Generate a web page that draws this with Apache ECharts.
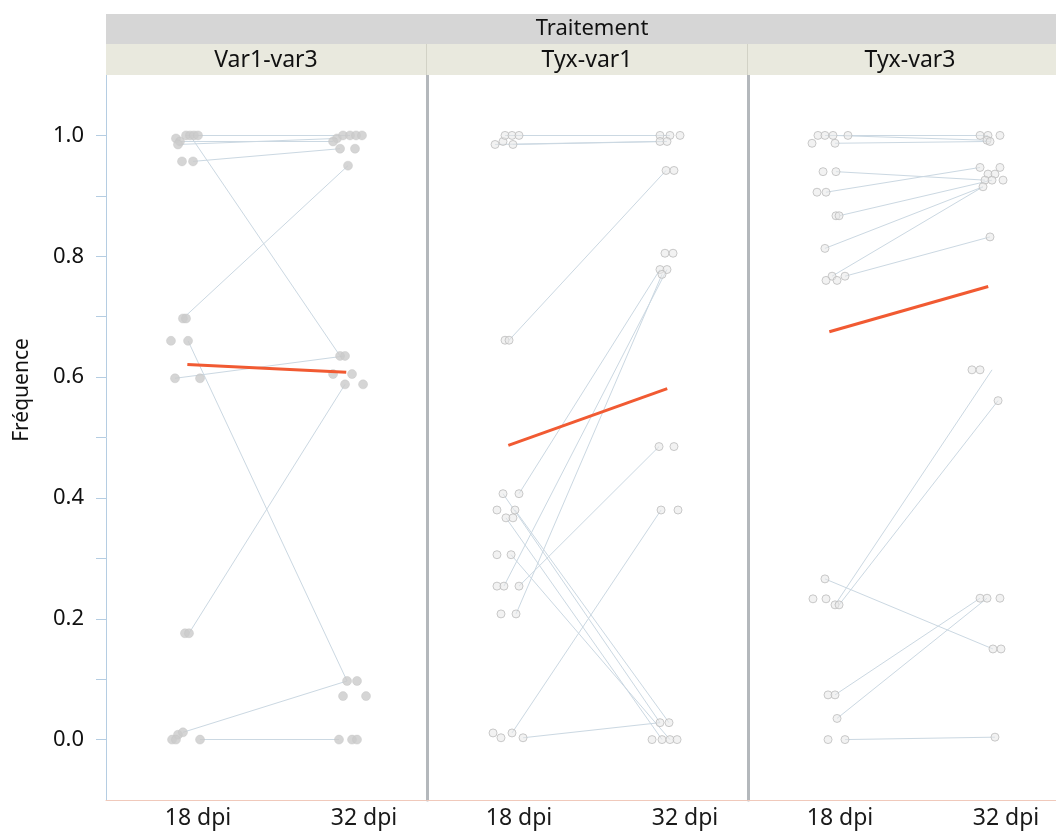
<!DOCTYPE html>
<html>
<head>
<meta charset="utf-8">
<script src="https://cdn.jsdelivr.net/npm/echarts@6/dist/echarts.min.js"></script>
<style>
html,body{margin:0;padding:0;background:#fff;}
#chart{width:1056px;height:834px;}
</style>
</head>
<body>
<div id="chart"></div>
<script>
// ---------- DATA ----------
const headerTitle = 'Traitement';
const yAxisTitle = 'Fréquence';
const panelNames = ['Var1-var3', 'Tyx-var1', 'Tyx-var3'];
const dpiValues = [18, 32];
const dpiLabels = ['18 dpi', '32 dpi'];
const yLabelValues = [0, 0.2, 0.4, 0.6, 0.8, 1.0];
const yTickValues = [0, 0.1, 0.2, 0.3, 0.4, 0.5, 0.6, 0.7, 0.8, 0.9, 1.0];
const meanX = [17.1, 30.5];

// Var1-var3: jittered points [dpi, frequency]
const var13_pts18 = [[16.14,0.995],[16.48,0.99],[16.99,1.0],[17.33,1.0],[17.66,1.0],[18.0,1.0],[16.31,0.985],
  [16.65,0.957],[17.58,0.957],[16.73,0.697],[16.99,0.697],[15.72,0.66],[17.16,0.66],[16.06,0.598],[18.17,0.598],
  [16.9,0.176],[17.24,0.176],[16.31,0.008],[16.73,0.012],[15.81,0.0],[16.14,0.0],[18.17,0.0]];
const var13_pts32 = [[29.72,0.995],[30.23,1.0],[30.82,1.0],[31.33,1.0],[31.83,1.0],[29.39,0.99],[29.98,0.978],
  [31.24,0.978],[30.65,0.95],[29.98,0.635],[30.4,0.635],[29.39,0.605],[30.99,0.605],[30.4,0.588],[31.92,0.588],
  [30.57,0.097],[31.41,0.097],[30.23,0.072],[32.17,0.072],[29.89,0.0],[30.99,0.0],[31.41,0.0]];
// pairs: [dpi18, freq18, dpi32, freq32]
const var13_pairs = [[16.99,1.0,30.23,1.0],[16.31,0.985,29.72,0.995],[17.66,1.0,30.82,1.0],[16.48,0.99,29.39,0.99],
  [17.58,0.957,29.98,0.978],[17.33,1.0,29.98,0.635],[17.16,0.66,30.57,0.097],[16.73,0.697,30.65,0.95],
  [16.06,0.598,30.4,0.635],[17.24,0.176,30.4,0.588],[16.73,0.012,30.57,0.097],[18.17,0.0,29.89,0.0]];
const var13_mean = [0.621, 0.608];

// Tyx-var1
const tyx1_pts18 = [[15.98,0.985],[16.65,0.99],[16.82,1.0],[17.41,1.0],[18.0,1.0],[17.49,0.985],[16.82,0.661],
  [17.16,0.661],[16.65,0.407],[18.0,0.407],[16.14,0.38],[17.66,0.38],[16.9,0.367],[17.49,0.367],[16.14,0.306],
  [17.33,0.306],[16.14,0.254],[16.73,0.254],[18.0,0.254],[16.48,0.208],[17.75,0.208],[15.81,0.011],[17.41,0.011],
  [16.48,0.003],[18.34,0.003]];
const tyx1_pts32 = [[29.89,1.0],[30.73,1.0],[31.58,1.0],[29.89,0.99],[30.48,0.99],[30.4,0.942],[31.07,0.942],
  [30.31,0.805],[30.99,0.805],[29.89,0.778],[30.48,0.778],[30.06,0.77],[29.81,0.485],[31.07,0.485],[29.98,0.38],
  [31.41,0.38],[29.89,0.028],[30.65,0.028],[29.22,0.0],[30.06,0.0],[30.73,0.0],[31.33,0.0]];
const tyx1_pairs = [[16.82,1.0,30.73,1.0],[15.98,0.985,29.89,0.99],[17.49,0.985,30.48,0.99],[17.16,0.661,30.4,0.942],
  [18.0,0.407,29.89,0.778],[16.73,0.254,30.48,0.778],[17.75,0.208,30.06,0.77],[18.0,0.254,29.81,0.485],
  [16.65,0.407,29.89,0.028],[17.66,0.38,30.65,0.028],[16.9,0.367,30.06,0.0],[17.33,0.306,30.73,0.0],
  [17.41,0.011,29.98,0.38],[18.34,0.003,29.89,0.028]];
const tyx1_mean = [0.487, 0.581];

// Tyx-var3
const tyx3_pts18 = [[15.64,0.987],[16.14,1.0],[16.73,1.0],[17.41,1.0],[18.67,1.0],[17.58,0.987],[16.57,0.94],
  [17.66,0.94],[16.06,0.906],[16.82,0.906],[17.66,0.867],[17.92,0.867],[16.73,0.813],[17.33,0.767],[18.42,0.767],
  [16.82,0.76],[17.75,0.76],[16.73,0.266],[15.72,0.233],[16.82,0.233],[17.58,0.223],[17.92,0.223],[16.99,0.074],
  [17.58,0.074],[17.75,0.035],[16.99,0.0],[18.42,0.0]];
const tyx3_pts32 = [[29.81,1.0],[30.48,1.0],[31.49,1.0],[30.4,0.992],[30.65,0.99],[29.81,0.947],[31.49,0.947],
  [30.48,0.936],[31.07,0.936],[30.23,0.926],[30.82,0.926],[31.75,0.926],[30.06,0.915],[30.65,0.832],[29.13,0.612],
  [29.81,0.612],[31.33,0.561],[29.81,0.234],[30.4,0.234],[31.49,0.234],[30.9,0.15],[31.58,0.15],[31.07,0.004]];
const tyx3_pairs = [[16.73,1.0,30.48,1.0],[17.41,1.0,30.4,0.992],[17.58,0.987,30.65,0.99],[17.66,0.94,30.23,0.926],
  [16.82,0.906,29.81,0.947],[17.92,0.867,30.82,0.926],[16.73,0.813,30.06,0.915],[17.33,0.767,30.06,0.915],
  [18.42,0.767,30.65,0.832],[17.58,0.223,30.82,0.612],[17.92,0.223,31.33,0.561],[16.73,0.266,30.9,0.15],
  [17.58,0.074,29.81,0.234],[17.75,0.035,30.4,0.234],[18.42,0.0,31.07,0.004]];
const tyx3_mean = [0.675, 0.750];

// ---------- CHART ----------
const FONT = 'Noto Sans';
const panelData = [
  {pts18: var13_pts18, pts32: var13_pts32, pairs: var13_pairs, mean: var13_mean, hollow: false},
  {pts18: tyx1_pts18, pts32: tyx1_pts32, pairs: tyx1_pairs, mean: tyx1_mean, hollow: true},
  {pts18: tyx3_pts18, pts32: tyx3_pts32, pairs: tyx3_pairs, mean: tyx3_mean, hollow: true}
];
const gridLefts = [106, 427, 748];
const gridWidths = [320, 320, 308];
const headerCenters = [266, 587, 910];
const pxPerDay = 11.857;
const xMin = 10.24;

const grids = [], xAxes = [], yAxes = [], series = [];
panelData.forEach((p, i) => {
  grids.push({left: gridLefts[i], width: gridWidths[i], top: 75, height: 725, containLabel: false});
  xAxes.push({
    type: 'value', gridIndex: i, min: xMin, max: xMin + gridWidths[i] / pxPerDay,
    axisLine: {show: true, onZero: false, lineStyle: {color: '#f0c9bb', width: 1}},
    axisTick: {show: false},
    splitLine: {show: false},
    axisLabel: {
      customValues: dpiValues, margin: 7,
      formatter: v => dpiLabels[dpiValues.indexOf(v)] || '',
      fontSize: 23, color: '#1a1a1a', fontFamily: FONT
    }
  });
  if (i === 0) {
    yAxes.push({
      type: 'value', gridIndex: i, min: -0.1, max: 1.1,
      axisLine: {show: true, onZero: false, lineStyle: {color: '#b5cde2', width: 1}},
      axisTick: {show: true, customValues: yTickValues, length: 10, lineStyle: {color: '#b5cde2'}},
      splitLine: {show: false},
      axisLabel: {customValues: yLabelValues, formatter: v => v.toFixed(1), margin: 22,
        fontSize: 22, color: '#111', fontFamily: FONT}
    });
  } else {
    yAxes.push({
      type: 'value', gridIndex: i, min: -0.1, max: 1.1,
      axisLine: {show: true, onZero: false, lineStyle: {color: '#b4b8bc', width: 3}},
      axisTick: {show: false}, axisLabel: {show: false}, splitLine: {show: false}
    });
  }
  series.push({
    type: 'lines', coordinateSystem: 'cartesian2d', xAxisIndex: i, yAxisIndex: i, silent: true,
    lineStyle: {color: '#cbd8e2', width: 1, opacity: 1},
    data: p.pairs.map(r => ({coords: [[r[0], r[1]], [r[2], r[3]]]})), z: 1
  });
  const ptStyle = p.hollow
    ? {color: 'rgba(232,232,232,0.7)', borderColor: '#bdbdbd', borderWidth: 1}
    : {color: '#cbcbcb', borderColor: '#c4c4c4', borderWidth: 0.5};
  series.push({
    type: 'scatter', xAxisIndex: i, yAxisIndex: i, symbol: 'circle', symbolSize: p.hollow ? 8 : 9,
    itemStyle: ptStyle, data: p.pts18.concat(p.pts32), z: 2, silent: true
  });
  series.push({
    type: 'line', xAxisIndex: i, yAxisIndex: i, symbol: 'none', silent: true,
    lineStyle: {color: '#f15a32', width: 3},
    data: [[meanX[0], p.mean[0]], [meanX[1], p.mean[1]]], z: 3
  });
});

const graphics = [
  {type: 'rect', shape: {x: 106, y: 14, width: 950, height: 30}, style: {fill: '#d6d6d6'}, z: 10},
  {type: 'text', x: 592, y: 29, style: {text: headerTitle, font: '22px "' + FONT + '"', fill: '#111',
    textAlign: 'center', textVerticalAlign: 'middle'}, z: 11},
  {type: 'text', x: 22, y: 390, rotation: Math.PI / 2, style: {text: yAxisTitle, font: '21px "' + FONT + '"',
    fill: '#111', textAlign: 'center', textVerticalAlign: 'middle'}, z: 11}
];
panelNames.forEach((name, i) => {
  graphics.push({type: 'rect', shape: {x: gridLefts[i], y: 44, width: gridWidths[i], height: 31},
    style: {fill: '#e9e9de'}, z: 10});
  graphics.push({type: 'text', x: headerCenters[i], y: 60,
    style: {text: name, font: '23px "' + FONT + '"', fill: '#111', textAlign: 'center', textVerticalAlign: 'middle'}, z: 11});
  if (i > 0) {
    graphics.push({type: 'line', shape: {x1: gridLefts[i] - 0.5, y1: 44, x2: gridLefts[i] - 0.5, y2: 75},
      style: {stroke: '#d2d2c6', lineWidth: 1}, z: 11});
  }
});

const chart = echarts.init(document.getElementById('chart'), null, {renderer: 'canvas'});
chart.setOption({
  animation: false,
  backgroundColor: '#ffffff',
  grid: grids, xAxis: xAxes, yAxis: yAxes, series: series,
  graphic: graphics
});
</script>
</body>
</html>
